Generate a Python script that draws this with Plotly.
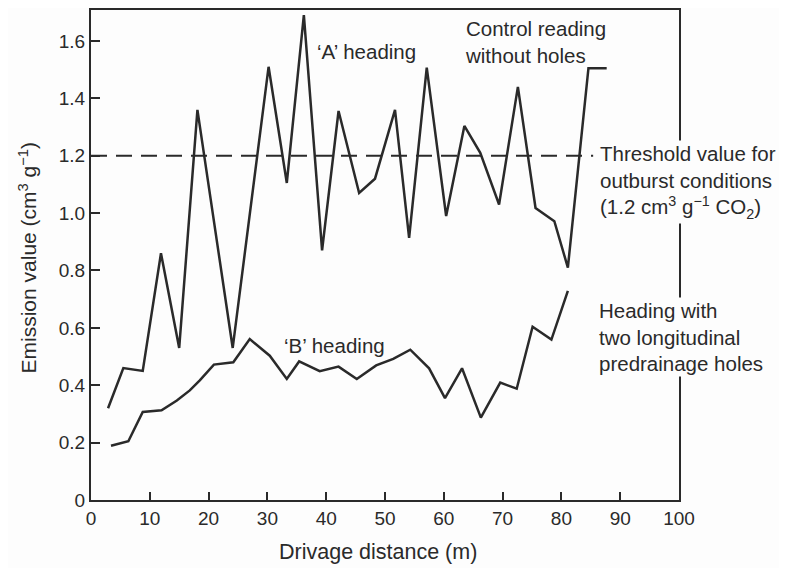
import plotly.graph_objects as go

# 'A' heading (control reading without holes)
a_x = [2.9, 5.5, 8.8, 11.9, 15.0, 18.1, 24.1, 30.2, 33.3, 36.2, 39.3, 42.1, 45.6, 48.3,
       51.7, 54.1, 57.1, 60.4, 63.5, 66.2, 69.4, 72.6, 75.6, 78.8, 81.1, 84.6, 87.7]
a_y = [0.32, 0.46, 0.45, 0.86, 0.53, 1.36, 0.53, 1.51, 1.105, 1.69, 0.87, 1.356, 1.07, 1.12,
       1.36, 0.914, 1.507, 0.99, 1.304, 1.21, 1.03, 1.44, 1.018, 0.972, 0.81, 1.505, 1.505]

# 'B' heading (two longitudinal predrainage holes)
b_x = [3.4, 6.35, 8.8, 12.0, 14.6, 16.8, 18.5, 20.9, 24.2, 27.0, 30.4, 33.3, 35.4, 38.9,
       42.1, 45.2, 48.5, 51.4, 54.3, 57.5, 60.2, 63.1, 66.3, 69.6, 72.4, 75.1, 78.3, 81.1]
b_y = [0.189, 0.205, 0.307, 0.313, 0.347, 0.382, 0.417, 0.472, 0.48, 0.561, 0.503, 0.422,
       0.483, 0.449, 0.465, 0.422, 0.469, 0.492, 0.524, 0.459, 0.355, 0.459, 0.287, 0.409,
       0.388, 0.604, 0.559, 0.729]

threshold = 1.2
threshold_x = [0, 85.4]

y_ticks = [0, 0.2, 0.4, 0.6, 0.8, 1.0, 1.2, 1.4, 1.6]
y_tick_text = ["0", "0.2", "0.4", "0.6", "0.8", "1.0", "1.2", "1.4", "1.6"]
x_ticks = [0, 10, 20, 30, 40, 50, 60, 70, 80, 90, 100]

FONT = "Liberation Sans, Arial, sans-serif"
INK = "#2a2a2a"
BG = "#fdfdfd"

fig = go.Figure()
fig.add_trace(go.Scatter(x=threshold_x, y=[threshold, threshold], mode="lines",
                         line=dict(color=INK, width=2, dash="16px,9px"), hoverinfo="skip"))
fig.add_trace(go.Scatter(x=a_x, y=a_y, mode="lines", line=dict(color=INK, width=2.5)))
fig.add_trace(go.Scatter(x=b_x, y=b_y, mode="lines", line=dict(color=INK, width=2.5)))

fs = 20.5
ann = [
    dict(x=38.1, y=1.5625, text="‘A’ heading", xanchor="left", yanchor="middle"),
    dict(x=63.3, y=1.597, text="Control reading<br>without holes", xanchor="left",
         yanchor="middle", align="left"),
    dict(x=32.4, y=0.538, text="‘B’ heading", xanchor="left", yanchor="middle"),
    dict(x=86.3, y=1.109,
         text="Threshold value for<br>outburst conditions<br>(1.2 cm<sup>3</sup> g<sup>−1</sup> CO<sub>2</sub>)",
         xanchor="left", yanchor="middle", align="left", bgcolor=BG),
    dict(x=86.1, y=0.569, text="Heading with<br>two longitudinal<br>predrainage holes",
         xanchor="left", yanchor="middle", align="left", bgcolor=BG),
]
for a in ann:
    a.update(xref="x", yref="y", showarrow=False, font=dict(size=fs, color=INK, family=FONT))
    fig.add_annotation(**a)

# axis titles as annotations (page px -> paper coords; plot area page x 91..679, y 8..500)
def px_x(px):
    return (px - 91) / 588

def px_y(py):
    return (500 - py) / 492

fig.add_annotation(x=px_x(27.5), y=px_y(257), xref="paper", yref="paper", showarrow=False,
                   text="Emission value (cm<sup>3</sup> g<sup>−1</sup>)", textangle=-90,
                   font=dict(size=21, color=INK, family=FONT), xanchor="center", yanchor="middle")
fig.add_annotation(x=px_x(378), y=px_y(552), xref="paper", yref="paper",
                   showarrow=False, text="Drivage distance (m)",
                   font=dict(size=21.5, color=INK, family=FONT), xanchor="center", yanchor="middle")

fig.update_layout(
    width=779, height=560,
    margin=dict(l=83, r=108, t=0, b=68),
    paper_bgcolor=BG, plot_bgcolor=BG,
    showlegend=False,
    font=dict(family=FONT, size=19, color=INK),
)
fig.update_xaxes(range=[0, 100], tickvals=x_ticks, ticks="inside", ticklen=8, tickwidth=1.5,
                 tickcolor=INK, showline=True, linecolor=INK, linewidth=2, mirror=True,
                 showgrid=False, zeroline=False, tickfont=dict(size=19, color=INK))
fig.update_yaxes(range=[0, 1.708], tickvals=y_ticks, ticktext=y_tick_text, ticks="inside",
                 ticklen=9, tickwidth=1.5, tickcolor=INK, showline=True, linecolor=INK,
                 linewidth=2, mirror=True, showgrid=False, zeroline=False,
                 tickfont=dict(size=19, color=INK))

fig.write_html("out.html")
